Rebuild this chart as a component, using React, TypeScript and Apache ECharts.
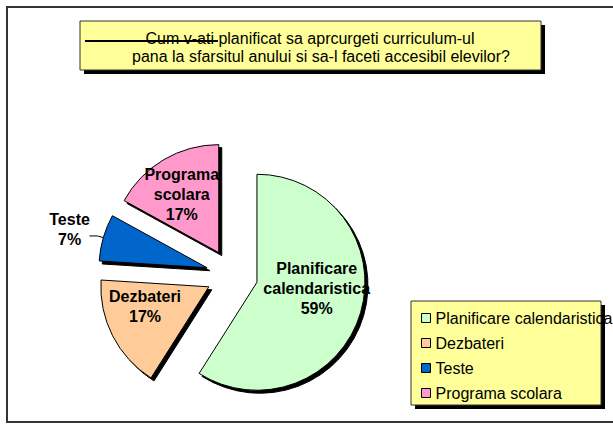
import React, { useEffect, useRef } from "react";
import * as echarts from "echarts";

const categories = ["Planificare calendaristica", "Dezbateri", "Teste", "Programa scolara"];
const sliceLabels = ["Planificare\ncalendaristica", "Dezbateri", "Teste", "Programa\nscolara"];
const values = [59, 17, 7, 17];
const colors = ["#CCFFCC", "#FFCC99", "#0066CC", "#FF99CC"];
const titleLines = [
  "Cum v-ati planificat sa aprcurgeti curriculum-ul",
  "pana la sfarsitul anului si sa-l faceti accesibil elevilor?",
];
// label nudges (dx, dy) per slice, style only
const labelNudge = [
  [5, -10],
  [-13, -6],
  [7, -6],
  [-8, -9],
];

const FONT = "'Liberation Sans', Arial, sans-serif";

export default function App() {
  const ref = useRef<HTMLDivElement>(null);
  useEffect(() => {
    document.body.style.margin = "0";
    const chart = echarts.init(ref.current!, null, { renderer: "svg" });
    const data = categories.map((name, i) => {
      const item: any = {
        name,
        value: values[i],
        selected: true,
        itemStyle: { color: colors[i] },
      };
      if (i === 2) {
        item.label = {
          position: "outside",
          formatter: (p: any) => `{t|${sliceLabels[p.dataIndex]}}\n{t|${Math.round(p.percent)}%}`,
          rich: { t: { width: 44, align: "center", fontSize: 16, fontWeight: "bold", fontFamily: FONT, lineHeight: 20, color: "#000" } },
        };
        item.labelLine = { show: true, length: 6, length2: 8, lineStyle: { color: "#000", width: 1 } };
      }
      return item;
    });
    chart.setOption({
      animation: false,
      backgroundColor: "#fff",
      graphic: [
        { type: "rect", z: 0, shape: { x: 7, y: 7, width: 620, height: 415 }, style: { fill: "none", stroke: "#333", lineWidth: 2 } },
        { type: "rect", z: 0, shape: { x: 84, y: 25, width: 461, height: 49 }, style: { fill: "#000" } },
        { type: "rect", z: 0, shape: { x: 80, y: 21, width: 461, height: 49 }, style: { fill: "#FFFF99", stroke: "#333", lineWidth: 1 } },
        { type: "text", z: 5, x: 310, y: 38, style: { text: titleLines[0], font: `16px ${FONT}`, fill: "#000", textAlign: "center", textVerticalAlign: "middle" } },
        { type: "text", z: 5, x: 321, y: 56, style: { text: titleLines[1], font: `16px ${FONT}`, fill: "#000", textAlign: "center", textVerticalAlign: "middle" } },
        { type: "line", z: 6, shape: { x1: 85, y1: 41, x2: 218, y2: 41 }, style: { stroke: "#000", lineWidth: 2 } },
        { type: "rect", z: 0, shape: { x: 415, y: 305, width: 190, height: 104 }, style: { fill: "#000" } },
        { type: "rect", z: 0, shape: { x: 411, y: 301, width: 190, height: 104 }, style: { fill: "#FFFF99", stroke: "#333", lineWidth: 1 } },
      ],
      legend: {
        orient: "vertical",
        left: 416,
        top: 305,
        itemWidth: 9,
        itemHeight: 9,
        itemGap: 9,
        icon: "rect",
        selectedMode: false,
        data: categories,
        textStyle: { fontSize: 16, fontFamily: FONT, color: "#000", lineHeight: 16 },
        itemStyle: { borderColor: "#000", borderWidth: 1, shadowBlur: 0, shadowOffsetX: 0, shadowOffsetY: 0, shadowColor: "transparent" },
      },
      series: [
        {
          type: "pie",
          center: [232, 275],
          radius: 108,
          startAngle: 90,
          clockwise: true,
          selectedMode: "multiple",
          selectedOffset: 26,
          avoidLabelOverlap: false,
          emphasis: { disabled: true },
          itemStyle: {
            borderColor: "#000",
            borderWidth: 1,
            shadowColor: "#000",
            shadowBlur: 0,
            shadowOffsetX: 3,
            shadowOffsetY: 3,
          },
          label: {
            show: true,
            position: "inside",
            formatter: (p: any) => `${sliceLabels[p.dataIndex]}\n${Math.round(p.percent)}%`,
            fontSize: 16,
            fontWeight: "bold",
            fontFamily: FONT,
            color: "#000",
            lineHeight: 20,
            align: "center",
          },
          labelLine: { show: false },
          labelLayout: (p: any) => ({ dx: labelNudge[p.dataIndex][0], dy: labelNudge[p.dataIndex][1] }),
          data,
        },
      ],
    });
    return () => chart.dispose();
  }, []);
  return <div ref={ref} style={{ width: 613, height: 424 }} />;
}
